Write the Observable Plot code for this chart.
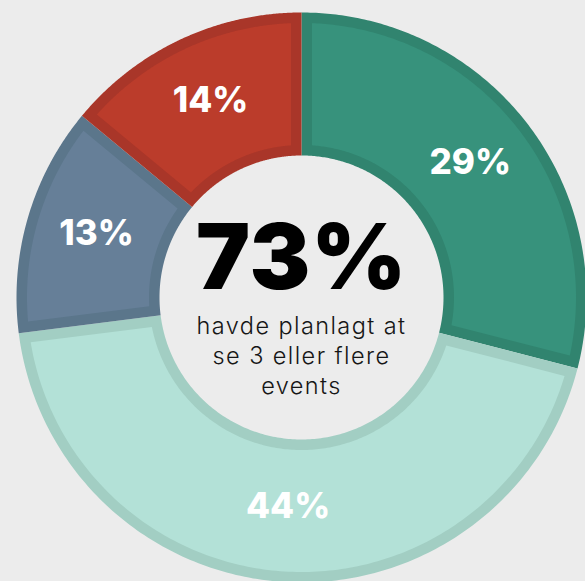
<!DOCTYPE html>
<html><head><meta charset="utf-8">
<script src="https://cdn.jsdelivr.net/npm/d3@7"></script>
<script src="https://cdn.jsdelivr.net/npm/@observablehq/plot@0.6"></script>
<style>
html,body{margin:0;padding:0;background:#ececec;}
</style></head><body><div id="chart"></div>
<script>
// ---- data ----
const slices = ["A", "B", "C", "D"];
const values = [29, 44, 13, 14];
const labels = ["29%", "44%", "13%", "14%"];
const headline = "73%";
const caption = "havde planlagt at\nse 3 eller flere\nevents";

// ---- style ----
const fillColors = ["#37927c", "#b3e1d7", "#667f98", "#bb3c2b"];
const borderColors = ["#31846f", "#a2cec3", "#5b768b", "#a93629"];
const R = 285, R0 = 142, INSET = 10.5;

const pie = d3.pie().sort(null).value(d => d.value);
const arcs = pie(slices.map((s, i) => ({id: s, value: values[i], label: labels[i], fill: fillColors[i], border: borderColors[i]})));

function ring(a0, a1, ro, ri, pad, id, color) {
  const pts = [];
  const ao = pad ? Math.asin(pad / ro) : 0, ai = pad ? Math.asin(pad / ri) : 0;
  const n = 180;
  const s0 = a0 + ao, s1 = a1 - ao;
  for (let i = 0; i <= n; i++) { const a = s0 + (s1 - s0) * i / n; pts.push({x: ro * Math.sin(a), y: ro * Math.cos(a), id, color}); }
  const t0 = a1 - ai, t1 = a0 + ai;
  for (let i = 0; i <= n; i++) { const a = t0 + (t1 - t0) * i / n; pts.push({x: ri * Math.sin(a), y: ri * Math.cos(a), id, color}); }
  pts.push({...pts[0]});
  return pts;
}

const outerPolys = arcs.flatMap(a => ring(a.startAngle, a.endAngle, R, R0, 0, a.data.id + "o", a.data.border));
const innerPolys = arcs.flatMap(a => ring(a.startAngle, a.endAngle, R - INSET, R0 + INSET, INSET, a.data.id + "i", a.data.fill));
const mid = (R + R0) / 2;
const labelPts = arcs.map(a => {
  const m = (a.startAngle + a.endAngle) / 2;
  return {x: mid * Math.sin(m), y: mid * Math.cos(m), text: a.data.label};
});

const chart = Plot.plot({
  width: 585,
  height: 581,
  margin: 0,
  x: {domain: [-301, 284], axis: null},
  y: {domain: [-284, 297], axis: null},
  color: {type: "identity"},
  style: {background: "#ececec", fontFamily: "Inter, Lato, sans-serif"},
  marks: [
    Plot.line(outerPolys, {x: "x", y: "y", z: "id", fill: "color", stroke: "none"}),
    Plot.line(innerPolys, {x: "x", y: "y", z: "id", fill: "color", stroke: "none"}),
    Plot.text(labelPts, {x: "x", y: "y", text: "text", fill: "white", fontSize: 35, fontWeight: 800, dy: -4}),
    Plot.text([headline], {x: () => 0, y: () => 0, text: d => d, fontSize: 91, fontWeight: 900, fill: "black", lineAnchor: "bottom", dy: -9}),
    Plot.text([caption], {x: () => 0, y: () => 0, text: d => d, fontSize: 23.5, fontWeight: 300, fill: "#161616", lineAnchor: "top", lineHeight: 1.28, dy: 15})
  ]
});
const textGroups = chart.querySelectorAll("g[aria-label='text']");
if (textGroups[2]) textGroups[2].setAttribute("letter-spacing", "0.06em");
if (textGroups[1]) textGroups[1].setAttribute("letter-spacing", "0.01em");
document.getElementById("chart").appendChild(chart);
</script></body></html>
